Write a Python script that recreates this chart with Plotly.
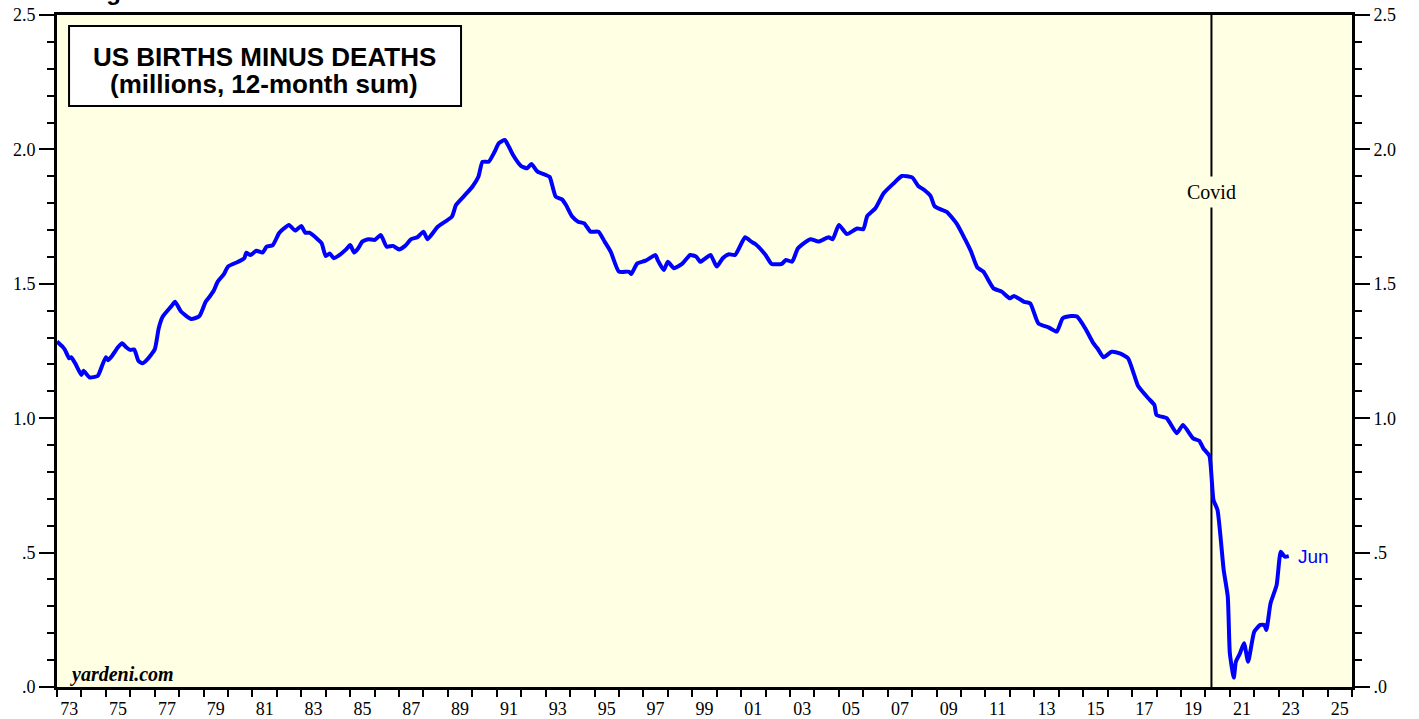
import plotly.graph_objects as go

# US births minus deaths, 12-month sum (millions)
dates = [
    "1973-01", "1973-04", "1973-05", "1973-07", "1973-08", "1973-10", "1974-01", "1974-02",
    "1974-05", "1974-09", "1974-11", "1975-01", "1975-02", "1975-04", "1975-07", "1975-09",
    "1975-11", "1976-01", "1976-03", "1976-05", "1976-07", "1976-09", "1977-01", "1977-03",
    "1977-05", "1977-09", "1977-11", "1978-02", "1978-07", "1978-11", "1979-02", "1979-04",
    "1979-06", "1979-08", "1979-11", "1980-01", "1980-06", "1980-09", "1980-10", "1980-12",
    "1981-03", "1981-06", "1981-08", "1981-11", "1982-02", "1982-04", "1982-07", "1982-10",
    "1983-01", "1983-03", "1983-05", "1983-09", "1983-11", "1984-01", "1984-03", "1984-05",
    "1984-07", "1984-11", "1985-01", "1985-03", "1985-05", "1985-07", "1985-10", "1986-01",
    "1986-04", "1986-05", "1986-07", "1986-10", "1987-01", "1987-04", "1987-07", "1987-10",
    "1988-01", "1988-03", "1988-08", "1989-03", "1989-05", "1989-09", "1990-01", "1990-04",
    "1990-06", "1990-09", "1990-12", "1991-02", "1991-05", "1991-07", "1991-09", "1992-01",
    "1992-04", "1992-06", "1992-09", "1993-01", "1993-03", "1993-06", "1993-09", "1993-11",
    "1994-02", "1994-05", "1994-08", "1994-11", "1995-03", "1995-06", "1995-09", "1996-01",
    "1996-06", "1996-07", "1996-10", "1997-02", "1997-07", "1997-08", "1997-11", "1998-01",
    "1998-04", "1998-08", "1998-12", "1999-03", "1999-05", "1999-10", "2000-01", "2000-04",
    "2000-07", "2000-10", "2001-03", "2001-06", "2001-08", "2002-01", "2002-04", "2002-09",
    "2002-11", "2003-02", "2003-05", "2003-11", "2004-03", "2004-08", "2004-10", "2005-01",
    "2005-05", "2005-10", "2006-01", "2006-03", "2006-07", "2006-11", "2007-04", "2007-08",
    "2008-01", "2008-04", "2008-07", "2008-10", "2008-12", "2009-03", "2009-06", "2009-11",
    "2010-03", "2010-06", "2010-09", "2010-12", "2011-05", "2011-09", "2012-01", "2012-03",
    "2012-08", "2012-11", "2013-03", "2013-08", "2013-12", "2014-03", "2014-07", "2014-10",
    "2015-02", "2015-06", "2015-08", "2015-11", "2016-03", "2016-07", "2016-11", "2017-02",
    "2017-04", "2017-09", "2017-12", "2018-01", "2018-06", "2018-11", "2019-02", "2019-07",
    "2019-10", "2019-12", "2020-03", "2020-05", "2020-07", "2020-10", "2020-12", "2021-01",
    "2021-03", "2021-04", "2021-06", "2021-08", "2021-10", "2022-01", "2022-04", "2022-06",
    "2022-07", "2022-09", "2022-12", "2023-02", "2023-04", "2023-06",
]
births_minus_deaths = [
    1.285, 1.264, 1.254, 1.223, 1.227, 1.204, 1.161, 1.177,
    1.152, 1.157, 1.192, 1.227, 1.216, 1.231, 1.264, 1.279,
    1.264, 1.254, 1.256, 1.214, 1.204, 1.216, 1.256, 1.334,
    1.378, 1.415, 1.433, 1.396, 1.369, 1.380, 1.433, 1.452,
    1.474, 1.508, 1.536, 1.564, 1.582, 1.595, 1.616, 1.607,
    1.623, 1.616, 1.638, 1.644, 1.688, 1.703, 1.719, 1.698,
    1.715, 1.690, 1.690, 1.666, 1.651, 1.603, 1.613, 1.595,
    1.603, 1.628, 1.644, 1.616, 1.632, 1.657, 1.666, 1.663,
    1.682, 1.669, 1.638, 1.641, 1.628, 1.641, 1.666, 1.673,
    1.694, 1.666, 1.712, 1.750, 1.793, 1.827, 1.861, 1.898,
    1.954, 1.954, 1.992, 2.023, 2.035, 2.010, 1.979, 1.938,
    1.930, 1.946, 1.917, 1.905, 1.898, 1.824, 1.814, 1.793,
    1.750, 1.731, 1.725, 1.694, 1.694, 1.657, 1.619, 1.545,
    1.545, 1.536, 1.576, 1.586, 1.607, 1.589, 1.551, 1.582,
    1.558, 1.574, 1.607, 1.601, 1.582, 1.607, 1.564, 1.595,
    1.610, 1.607, 1.673, 1.657, 1.648, 1.607, 1.574, 1.574,
    1.589, 1.582, 1.632, 1.666, 1.657, 1.673, 1.666, 1.719,
    1.685, 1.706, 1.703, 1.752, 1.781, 1.837, 1.874, 1.901,
    1.896, 1.864, 1.849, 1.827, 1.789, 1.777, 1.768, 1.722,
    1.666, 1.619, 1.561, 1.545, 1.483, 1.471, 1.446, 1.455,
    1.433, 1.427, 1.353, 1.338, 1.322, 1.372, 1.380, 1.378,
    1.334, 1.279, 1.260, 1.227, 1.247, 1.241, 1.223, 1.161,
    1.120, 1.074, 1.049, 1.012, 1.000, 0.944, 0.975, 0.925,
    0.916, 0.888, 0.860, 0.696, 0.658, 0.435, 0.336, 0.125,
    0.035, 0.094, 0.125, 0.163, 0.094, 0.206, 0.231, 0.231,
    0.212, 0.311, 0.379, 0.503, 0.485, 0.487,
]

y_tickvals = [0, 0.5, 1.0, 1.5, 2.0, 2.5]
y_ticktext = [".0", ".5", "1.0", "1.5", "2.0", "2.5"]
x_label_years = list(range(1973, 2026, 2))
x_label_pos = [f"{y}-07-02" for y in x_label_years]
x_label_text = [f"{y % 100:02d}" for y in x_label_years]

COVID_DATE = "2020-04-01"
BG = "#FFFFE4"
SERIF = "Liberation Serif, Times New Roman, serif"
SANS = "Liberation Sans, Arial, sans-serif"

fig = go.Figure()
fig.add_trace(go.Scatter(
    x=dates, y=births_minus_deaths, mode="lines",
    line=dict(color="#0000FF", width=4, shape="spline", smoothing=0.5), showlegend=False,
))
# same series on the right-hand axis, invisible, so that axis gets drawn
fig.add_trace(go.Scatter(
    x=dates, y=births_minus_deaths, mode="lines", yaxis="y2",
    line=dict(color="rgba(0,0,0,0)", width=0), showlegend=False, hoverinfo="skip",
))

yax = dict(
    range=[0, 2.5], tickvals=y_tickvals, ticktext=y_ticktext,
    ticks="outside", ticklen=15, tickwidth=2, tickcolor="black",
    minor=dict(dtick=0.1, tick0=0, ticks="outside", ticklen=7, tickwidth=2, tickcolor="black"),
    showgrid=False, zeroline=False, showline=True, linewidth=3, linecolor="black",
    tickfont=dict(family=SERIF, size=18, color="black"), automargin=False,
    ticklabeloverflow="allow",
)

fig.update_layout(
    template="none",
    width=1419, height=719, autosize=False,
    margin=dict(l=57, r=67, t=15, b=32),
    paper_bgcolor="white", plot_bgcolor=BG,
    xaxis=dict(
        type="date", range=["1973-01-01", "2026-01-01"],
        tickvals=x_label_pos, ticktext=x_label_text,
        ticks="outside", ticklen=3, tickcolor="rgba(0,0,0,0)",
        minor=dict(dtick="M12", tick0="1973-01-01", ticks="outside", ticklen=7,
                   tickwidth=2, tickcolor="black"),
        showgrid=False, zeroline=False, showline=True, linewidth=3, linecolor="black",
        mirror=True, tickfont=dict(family=SERIF, size=18, color="black"), automargin=False,
        ticklabeloverflow="allow",
    ),
    yaxis=dict(side="left", **yax),
    yaxis2=dict(side="right", overlaying="y", anchor="x", **yax),
)

# covid marker line
fig.add_shape(type="line", xref="x", yref="paper", x0=COVID_DATE, x1=COVID_DATE,
              y0=0, y1=1, line=dict(color="black", width=2), layer="below")

# title box
fig.add_shape(type="rect", xref="paper", yref="paper", x0=0.0093, x1=0.312,
              y0=0.8646, y1=0.9836, line=dict(color="black", width=2), fillcolor="white")

fig.add_annotation(text="<b>US BIRTHS MINUS DEATHS</b>", xref="paper", yref="paper",
                   x=0.1606, y=0.9375, xanchor="center", yanchor="middle", showarrow=False,
                   font=dict(family=SANS, size=26, color="black"))
fig.add_annotation(text="<b>(millions, 12-month sum)</b>", xref="paper", yref="paper",
                   x=0.1602, y=0.8973, xanchor="center", yanchor="middle", showarrow=False,
                   font=dict(family=SANS, size=26, color="black"))

fig.add_annotation(text="Covid", xref="x", yref="paper", x=COVID_DATE, y=0.7366,
                   xanchor="center", yanchor="middle",
                   showarrow=False, bgcolor=BG, borderpad=4,
                   font=dict(family=SERIF, size=20, color="black"))

fig.add_annotation(text="Jun", xref="x", yref="y", x=dates[-1], y=births_minus_deaths[-1],
                   xanchor="left", yanchor="middle", xshift=7, showarrow=False,
                   font=dict(family=SANS, size=19, color="#0000FF"))

fig.add_annotation(text="<b><i>yardeni.com</i></b>", xref="paper", yref="paper",
                   x=0.0085, y=0.0193, xanchor="left", yanchor="middle", showarrow=False,
                   font=dict(family=SERIF, size=20, color="black"))

# figure caption, mostly cut off by the top edge as in the source
fig.add_annotation(text="<b>Figure</b>", xref="paper", yref="paper",
                   x=0.02, y=1.0119, xanchor="left", yanchor="bottom", showarrow=False,
                   font=dict(family=SANS, size=24, color="black"))

# drop the default 8px body margin so the figure sits at the window's corner
fig.write_html("out.html", config={"displayModeBar": False},
               post_script="document.body.style.margin='0';")
